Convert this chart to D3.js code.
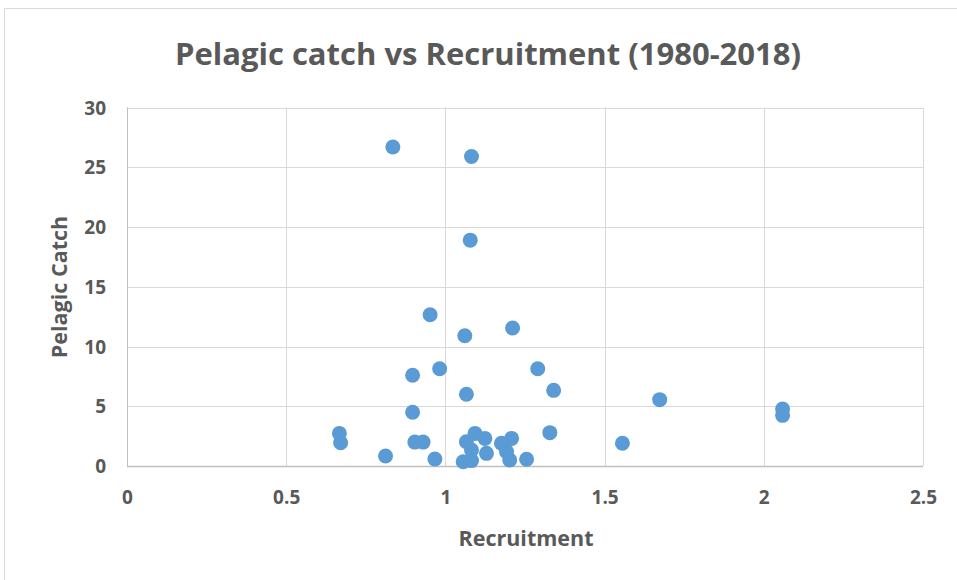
<!DOCTYPE html>
<html>
<head>
<meta charset="utf-8">
<script src="https://cdn.jsdelivr.net/npm/d3@7"></script>
<style>
  html, body { margin: 0; padding: 0; background: #fff; }
  svg { display: block; }
  text { font-family: "Open Sans", "Liberation Sans", sans-serif; }
</style>
</head>
<body>
<svg id="chart" width="957" height="580"></svg>
<script>
// Data: (Recruitment, Pelagic catch), 1980-2018
const recruitment = [0.835, 1.082, 1.078, 0.952, 1.061, 1.211, 0.897, 0.982, 1.290, 1.340,
  1.066, 0.897, 1.673, 2.059, 2.059, 1.556, 1.328, 0.667, 0.671, 0.812,
  0.904, 0.930, 0.967, 1.093, 1.066, 1.124, 1.082, 1.129, 1.056, 1.082,
  1.176, 1.208, 1.192, 1.202, 1.255];
const pelagicCatch = [26.7, 25.9, 18.9, 12.66, 10.9, 11.55, 7.6, 8.14, 8.14, 6.33,
  6.0, 4.5, 5.55, 4.77, 4.24, 1.9, 2.79, 2.73, 1.95, 0.84,
  2.0, 2.0, 0.59, 2.73, 2.03, 2.31, 1.34, 1.06, 0.36, 0.45,
  1.9, 2.31, 1.2, 0.5, 0.56];
const xTicks = [0, 0.5, 1, 1.5, 2, 2.5];
const yTicks = [0, 5, 10, 15, 20, 25, 30];
const titleText = "Pelagic catch vs Recruitment (1980-2018)";
const xTitle = "Recruitment";
const yTitle = "Pelagic Catch";

const points = recruitment.map((r, i) => ({ x: r, y: pelagicCatch[i] }));

const svg = d3.select("#chart");
const W = 957, H = 580;
const plot = { left: 127, right: 923, top: 107.5, bottom: 466 };

// outer chart border (top and left visible)
svg.append("rect").attr("x", 0).attr("y", 0).attr("width", W).attr("height", H).attr("fill", "#fff");
svg.append("line").attr("x1", 4.5).attr("x2", W).attr("y1", 8.5).attr("y2", 8.5).attr("stroke", "#d9d9d9");
svg.append("line").attr("x1", 4.5).attr("x2", 4.5).attr("y1", 8.5).attr("y2", H).attr("stroke", "#d9d9d9");

const x = d3.scaleLinear().domain([0, 2.5]).range([plot.left, plot.right]);
const y = d3.scaleLinear().domain([0, 30]).range([plot.bottom, plot.top]);

// gridlines
const grid = svg.append("g");
grid.selectAll("line.h").data(yTicks).join("line")
  .attr("x1", plot.left).attr("x2", plot.right)
  .attr("y1", d => Math.round(y(d)) + 0.5).attr("y2", d => Math.round(y(d)) + 0.5)
  .attr("stroke", "#d9d9d9").attr("stroke-width", 1);
grid.selectAll("line.v").data(xTicks).join("line")
  .attr("y1", plot.top).attr("y2", plot.bottom)
  .attr("x1", d => Math.round(x(d)) + 0.5).attr("x2", d => Math.round(x(d)) + 0.5)
  .attr("stroke", "#d9d9d9").attr("stroke-width", 1);

// axes lines
svg.append("line").attr("x1", plot.left).attr("x2", plot.right)
  .attr("y1", Math.round(y(0)) + 0.5).attr("y2", Math.round(y(0)) + 0.5)
  .attr("stroke", "#bfbfbf").attr("stroke-width", 1.5);
svg.append("line").attr("y1", plot.top).attr("y2", plot.bottom)
  .attr("x1", Math.round(x(0)) + 0.5).attr("x2", Math.round(x(0)) + 0.5)
  .attr("stroke", "#bfbfbf").attr("stroke-width", 1);

// axes via d3 (tick labels only)
const xAxis = d3.axisBottom(x).tickValues(xTicks).tickFormat(d3.format("")).tickSize(0).tickPadding(0);
const gx = svg.append("g").attr("transform", `translate(0, 504)`).call(xAxis);
gx.select(".domain").remove();
gx.selectAll("text").attr("dy", 0).attr("fill", "#595959")
  .style("font-size", "19px").style("font-weight", "bold");

const yAxis = d3.axisLeft(y).tickValues(yTicks).tickFormat(d3.format("")).tickSize(0).tickPadding(0);
const gy = svg.append("g").attr("transform", `translate(106, 0)`).call(yAxis);
gy.select(".domain").remove();
gy.selectAll("text").attr("dy", "0.35em").attr("fill", "#595959")
  .style("font-size", "19px").style("font-weight", "bold");

// points
svg.append("g").selectAll("circle").data(points).join("circle")
  .attr("cx", d => x(d.x)).attr("cy", d => y(d.y)).attr("r", 7.5)
  .attr("fill", "#5b9bd5");

// title
svg.append("text").attr("x", 488).attr("y", 65).attr("text-anchor", "middle")
  .attr("fill", "#595959").style("font-size", "31px").style("font-weight", "bold")
  .text(titleText);

// axis titles
svg.append("text").attr("x", 526).attr("y", 546).attr("text-anchor", "middle")
  .attr("fill", "#595959").style("font-size", "21.5px").style("font-weight", "bold")
  .text(xTitle);
svg.append("text").attr("transform", "translate(67, 287) rotate(-90)").attr("text-anchor", "middle")
  .attr("fill", "#595959").style("font-size", "21.5px").style("font-weight", "bold")
  .text(yTitle);
</script>
</body>
</html>
